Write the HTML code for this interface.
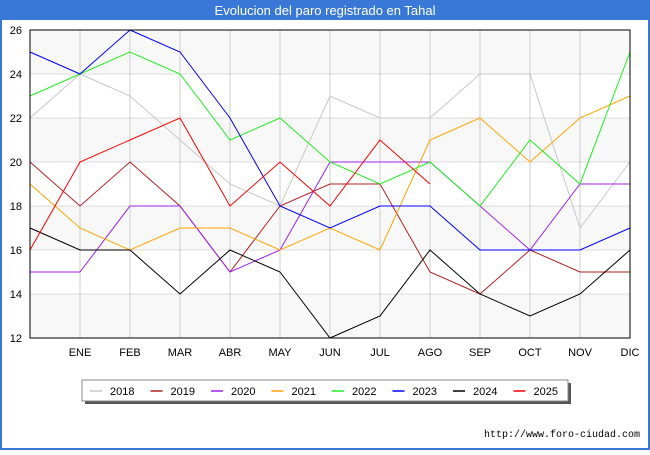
<!DOCTYPE html>
<html><head><meta charset="utf-8"><style>
body{margin:0;width:650px;height:450px;overflow:hidden;background:#fff;font-family:"Liberation Sans",sans-serif}
</style></head><body>
<svg id="c" width="650" height="450" xmlns="http://www.w3.org/2000/svg">
<rect x="0" y="0" width="650" height="450" fill="#3a78d8"/>
<rect x="2" y="20" width="646" height="428" fill="#fff"/>
<text x="325" y="15" text-anchor="middle" fill="#fff" font-size="13">Evolucion del paro registrado en Tahal</text>
<g id="plot"></g>
<text x="640" y="437" text-anchor="end" font-size="10" font-family="Liberation Mono, monospace" fill="#000">http://www.foro-ciudad.com</text>
</svg>
<script>
const months=["ENE","FEB","MAR","ABR","MAY","JUN","JUL","AGO","SEP","OCT","NOV","DIC"];
const yTicks=[12,14,16,18,20,22,24,26];
const seriesNames=["2018","2019","2020","2021","2022","2023","2024","2025"];
const seriesColors=["#c8c8c8","#b22222","#a020f0","#ffa500","#22ee22","#0000ff","#000000","#ff0000"];
const s2018=[22,24,23,21,19,18,23,22,22,24,24,17,20];
const s2019=[20,18,20,18,15,18,19,19,15,14,16,15,15];
const s2020=[15,15,18,18,15,16,20,20,20,18,16,19,19];
const s2021=[19,17,16,17,17,16,17,16,21,22,20,22,23];
const s2022=[23,24,25,24,21,22,20,19,20,18,21,19,25];
const s2023=[25,24,26,25,22,18,17,18,18,16,16,16,17];
const s2024=[17,16,16,14,16,15,12,13,16,14,13,14,16];
const s2025=[16,20,21,22,18,20,18,21,19];
const allSeries=[s2018,s2019,s2020,s2021,s2022,s2023,s2024,s2025];
const NS="http://www.w3.org/2000/svg";
const L=30,R=630,T=30,B=338,ymin=12,ymax=26;
const xs=i=>L+i*(R-L)/12;
const ys=v=>B-(v-ymin)*(B-T)/(ymax-ymin);
const g=document.getElementById('plot');
function mk(t,a){const e=document.createElementNS(NS,t);for(const k in a)e.setAttribute(k,a[k]);g.appendChild(e);return e;}
for(let i=0;i<yTicks.length-1;i++){
 const r=mk('rect',{x:L,y:ys(yTicks[i+1]),width:R-L,height:ys(yTicks[i])-ys(yTicks[i+1]),fill:i%2==0?'#f8f8f8':'#ffffff'});
 
 
}
yTicks.forEach(v=>{
 const l=mk('line',{x1:L,x2:R,y1:ys(v),y2:ys(v),stroke:'#dddddd'});
 
 
 const t=mk('text',{x:L-8,y:ys(v)+4,'text-anchor':'end','font-size':11});
 t.textContent=v;
 
 
});
months.forEach((m,i)=>{
 const l=mk('line',{x1:xs(i+1),x2:xs(i+1),y1:T,y2:B,stroke:'#cccccc'});
 
 
 const t=mk('text',{x:xs(i+1),y:B+18,'text-anchor':'middle','font-size':11});
 t.textContent=m;
 
 
});
allSeries.forEach((s,k)=>{
 const p=mk('polyline',{points:s.map((v,i)=>xs(i)+','+ys(v)).join(' '),fill:'none',stroke:seriesColors[k],'stroke-width':1});
 
 
});
const ax=mk('rect',{x:L,y:T,width:R-L,height:B-T,fill:'none',stroke:'#000'});


const sh=mk('rect',{x:85,y:383,width:486,height:21,fill:'#555'});


const lb=mk('rect',{x:82,y:380,width:486,height:21,fill:'#fff',stroke:'#888'});


seriesNames.forEach((n,k)=>{
 const x0=90+k*60.5;
 const l=mk('line',{x1:x0,x2:x0+12,y1:391,y2:391,stroke:seriesColors[k],'stroke-width':1.5});
 
 
 const t=mk('text',{x:x0+20,y:395,'font-size':11});
 t.textContent=n;
 
 
});
</script>
</body></html>
